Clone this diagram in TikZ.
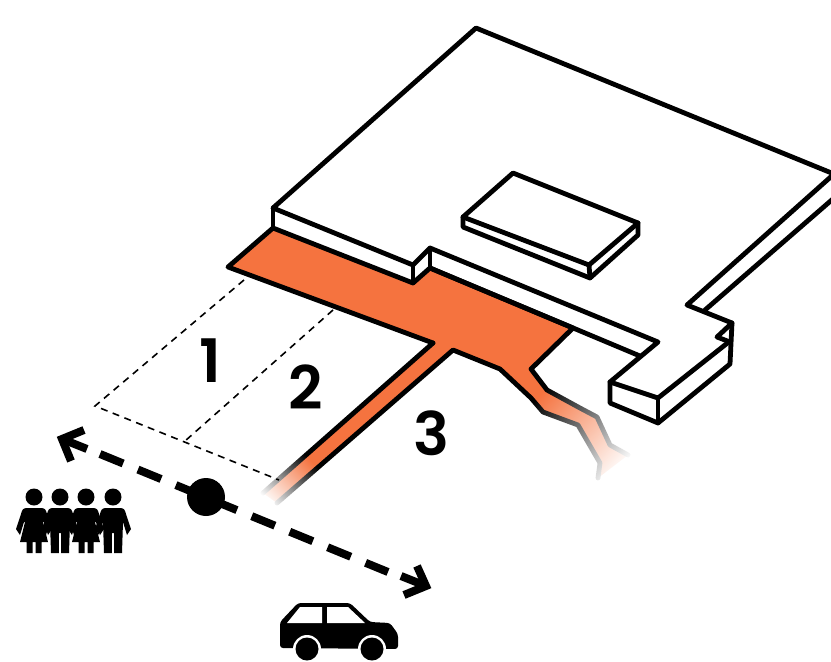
\documentclass[tikz,border=0pt]{standalone}
\usepackage{fontspec}
\setmainfont{Poppins}
\newfontfamily\digitfont{Poppins SemiBold}
\usetikzlibrary{fadings}
\definecolor{brick}{HTML}{F5733F}
\tikzfading[name=fadealong,left color=transparent!100,right color=transparent!0]
\tikzset{
  outline/.style={draw=black,line width=4.8pt,line join=round,line cap=round},
  guide/.style={draw=black,line width=1.6pt,dash pattern=on 7pt off 5.6pt},
  digit/.style={font=\fontsize{60}{60}\selectfont\digitfont,inner sep=0pt,text=black},
  flow/.style={draw=black,line width=8pt,dash pattern=on 25pt off 16pt},
  flowhead/.style={draw=black,line width=8pt,line join=miter,miter limit=10},
  womanfig/.pic={
    \fill (0,-56) circle (8.5);
    \fill (-7,-45) -- (7,-45) .. controls (11,-45) and (12,-43) .. (13,-39) -- (18,-24) -- (14,-18) -- (10,-31) -- (9,-31) -- (14,-11) -- (7.5,-11) -- (7.5,0) -- (1.5,0) -- (1.5,-11) -- (-1.5,-11) -- (-1.5,0) -- (-7.5,0) -- (-7.5,-11) -- (-14,-11) -- (-9,-31) -- (-10,-31) -- (-14,-18) -- (-18,-24) -- (-13,-39) .. controls (-12,-43) and (-11,-45) .. (-7,-45) -- cycle;},
  manfig/.pic={
    \fill (0,-56) circle (8.5);
    \fill (-7,-45) -- (7,-45) .. controls (11,-45) and (12,-43) .. (13,-39) -- (18,-24) -- (14,-18) -- (10,-31) -- (9,0) -- (1.2,0) -- (1.2,-20) -- (-1.2,-20) -- (-1.2,0) -- (-9,0) -- (-10,-31) -- (-14,-18) -- (-18,-24) -- (-13,-39) .. controls (-12,-43) and (-11,-45) .. (-7,-45) -- cycle;},
}
\begin{document}
\begin{tikzpicture}[x=1pt,y=-1pt]
\useasboundingbox (0,0) rectangle (831,662);
% corner points of the building
\coordinate (rN) at (476,28);
\coordinate (rE) at (834,174);
\coordinate (rW) at (273,208);
\coordinate (rWb) at (273,228);
\coordinate (n1) at (413,265);
\coordinate (n1b) at (413,283);
\coordinate (n2) at (430,248);
\coordinate (n2b) at (430,268);
\coordinate (s1) at (658,342);
\coordinate (s1b) at (640,356);
\coordinate (b1) at (610,382);
\coordinate (b1b) at (610,403);
\coordinate (b2) at (658,398);
\coordinate (b2b) at (658,423);
\coordinate (b3) at (730,341);
\coordinate (b3b) at (730,364);
\coordinate (t0) at (687,305);
\coordinate (t1) at (732,323);
% orange plaza, road and river
\fill[brick] (228,267) -- (rWb) -- (n1b) -- (n2b) -- (573,328) -- (531,369) -- (547,390) -- (580,408) -- (597,417) -- (610,445) -- (628,455) -- (598,478) -- (600,463) -- (578,425) -- (543,412) -- (531,398) -- (500,369) -- (453,350) -- (277,503) -- (263,493) -- (433,343) -- cycle;
\draw[outline] (433,343) -- (228,267) -- (rWb) -- (n1b) -- (n2b) -- (573,328) -- (531,369) -- (547,390) -- (580,408) -- (597,417) -- (610,445) -- (628,455);
\draw[outline] (598,478) -- (600,463) -- (578,425) -- (543,412) -- (531,398) -- (500,369) -- (453,350) -- (277,503);
\draw[outline] (433,343) -- (263,493);
% fade-outs of road and river
\fill[white,path fading=fadealong,fit fading=false,fading transform={shift={(286,478)},rotate=-136,scale=1.2}] (246,438) rectangle (326,518);
\fill[white,path fading=fadealong,fit fading=false,fading transform={shift={(577,436)},rotate=-42,scale=2.2}] (500,359) rectangle (654,513);
% dashed plots
\coordinate (p1) at (244,280);
\coordinate (p2) at (95,406);
\coordinate (p3) at (279,480);
\coordinate (q1) at (333,310);
\coordinate (q2) at (185,441);
\draw[guide] (p1) -- (p2) -- (p3);
\draw[guide] (q1) -- (q2);
% roof
\draw[outline] (rW) -- (rN) -- (rE) -- (t0) -- (t1) -- (b3b) -- (b2b) -- (b1b) -- (b1) -- (s1) -- (n2) -- (n1) -- (rW) -- cycle;
\draw[outline] (rW) -- (rWb);
\draw[outline] (n1) -- (n1b);
\draw[outline] (n2) -- (n2b);
\draw[outline] (n2b) -- (s1b);
\draw[outline] (b1) -- (b2) -- (b3);
\draw[outline] (b2) -- (b2b);
\draw[outline] (t1) -- (717,337) -- (730,342);
\coordinate (t2) at (705,310);
\coordinate (t3) at (834,198);
\draw[outline] (t2) -- (t3);
% small roof block
\coordinate (u1) at (513,173);
\coordinate (u2) at (638,223);
\coordinate (u3) at (589,265);
\coordinate (u4) at (463,217);
\draw[outline] (u1) -- (u2) -- (u3) -- (u4) -- cycle;
\draw[outline] (u4) -- (463,227) -- (590,278) -- (638,235) -- (u2);
\draw[outline] (u3) -- (590,278);
% numbers
\node[digit] (d1) at (210,361) {1};
\node[digit] (d2) at (306,387) {2};
\node[digit] (d3) at (431,433) {3};
% movement arrow
\coordinate (tipL) at (62,439);
\coordinate (tipR) at (426,586);
\coordinate (flowA) at (100,454);
\coordinate (flowB) at (388,572);
\draw[flow] (flowA) -- (flowB);
\draw[flowhead] (84,430) -- (tipL) -- (71,461);
\draw[flowhead] (tipL) -- (87,449);
\draw[flowhead] (417,566) -- (tipR) -- (404,595);
\draw[flowhead] (tipR) -- (401,576);
\node[circle,fill=black,inner sep=0pt,minimum size=38pt] (dot) at (206,497) {};
% people
\pic[black] at (34,553) {womanfig};
\pic[black] at (60,553) {manfig};
\pic[black] at (86,553) {womanfig};
\pic[black] at (113,553) {manfig};
% car
\fill[black,rounded corners=3pt] (280,648) -- (280,622) -- (298,603) -- (350,603) -- (370,622) -- (390,623) -- (398,634) -- (398,649) -- cycle;
\fill[white] (287,623) -- (300,607) -- (322,607) -- (322,623) -- cycle;
\fill[white] (327,607) -- (348,607) -- (365,623) -- (327,623) -- cycle;
\foreach \cx in {307,372}{
  \fill[white] (\cx,649) circle (14);
  \fill[black] (\cx,649) circle (11.5);
}
\end{tikzpicture}
\end{document}
